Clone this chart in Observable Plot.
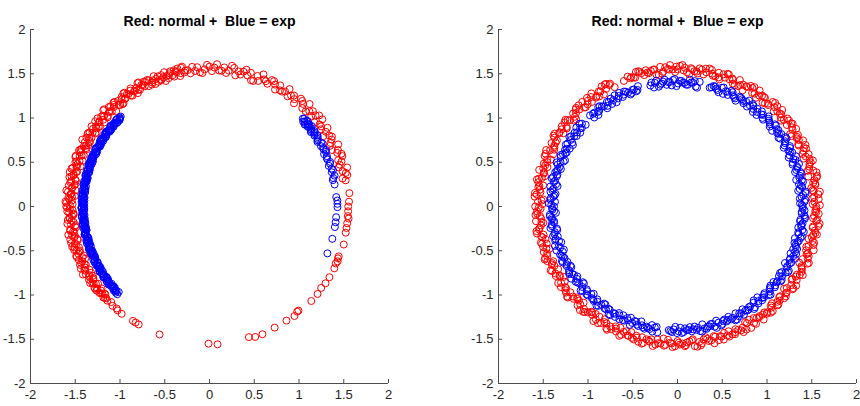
<!DOCTYPE html>
<html><head><meta charset="utf-8">
<script src="https://cdn.jsdelivr.net/npm/d3@7"></script>
<script src="https://cdn.jsdelivr.net/npm/@observablehq/plot@0.6"></script>
<style>
body{margin:0;background:#fff;}
#wrap{display:flex;width:860px;height:406px;}
#wrap svg{overflow:visible;}
</style></head><body><div id="wrap"></div>
<script>
const titleText = "Red: normal +  Blue = exp";
const tickValues = [-2, -1.5, -1, -0.5, 0, 0.5, 1, 1.5, 2];

// ---- Left panel: red (normal) angles in degrees and radii ----
const leftRedAngle = [
11,12,13,15,16,17,19,20,21,23,
24,25,26,28,29,30,32,33,34,35,
37,38,39,41,42,43,44,46,47,48,
50,51,52,53,55,56,57,59,60,61,
62,64,65,66,68,69,70,71,73,74,
75,77,78,79,80,82,83,84,86,87,
88,89,91,92,93,95,96,97,98,100,
101,102,104,105,106,107,109,110,111,113,
114,115,116,118,119,120,122,123,124,125,
127,128,129,131,132,133,134,136,137,138,
140,141,142,143,145,146,147,149,150,151,
152,154,155,156,158,159,160,161,163,164,
165,167,168,169,170,172,173,174,176,177,
178,179,181,182,183,185,186,187,188,190,
191,192,194,195,196,197,199,200,201,203,
204,205,206,208,209,210,212,213,214,215,
217,218,219,220,221,222,223,224.5,226,228,
228.8,231,236.5,237.8,239.3,248.9,269.6,273.3,286.6,289.1,
292.3,298,303.7,307.5,309.5,310.2,316.8,320.7,323.6,326.2,
329.2,333.4,335.5,336.6,337.8,338.7,344,349,351,353,
355,356,358,0,2,5.5
];
const leftRedRadius = [
1.55,1.52,1.58,1.54,1.60,1.51,1.56,1.53,1.59,1.55,
1.57,1.51,1.60,1.53,1.56,1.58,1.50,1.55,1.59,1.52,
1.54,1.60,1.51,1.57,1.53,1.58,1.55,1.61,1.52,1.56,
1.59,1.50,1.54,1.57,1.52,1.60,1.55,1.53,1.58,1.51,
1.56,1.59,1.53,1.55,1.61,1.52,1.57,1.50,1.58,1.54,
1.60,1.53,1.56,1.51,1.59,1.55,1.52,1.58,1.54,1.61,
1.57,1.53,1.60,1.55,1.51,1.58,1.54,1.59,1.52,1.56,
1.61,1.54,1.57,1.52,1.59,1.55,1.50,1.58,1.53,1.60,
1.56,1.52,1.59,1.54,1.57,1.61,1.51,1.55,1.58,1.53,
1.60,1.54,1.56,1.52,1.59,1.57,1.50,1.55,1.61,1.53,
1.58,1.51,1.56,1.60,1.54,1.57,1.52,1.59,1.55,1.53,
1.61,1.56,1.52,1.58,1.54,1.60,1.51,1.57,1.55,1.59,
1.53,1.56,1.60,1.52,1.58,1.55,1.51,1.59,1.54,1.57,
1.61,1.53,1.56,1.59,1.52,1.57,1.55,1.60,1.51,1.58,
1.54,1.57,1.52,1.60,1.55,1.58,1.53,1.56,1.59,1.51,
1.57,1.54,1.60,1.52,1.58,1.55,1.53,1.59,1.56,1.52,
1.58,1.54,1.56,1.53,1.57,1.55,1.56,1.54,1.56,1.55,
1.56,1.56,1.55,1.55,1.55,1.55,1.55,1.56,1.54,1.56,
1.56,1.55,1.55,1.56,1.54,1.54,1.56,1.56,1.55,1.56,
1.56,1.56,1.55,1.56,1.55,1.55,1.56,1.55,1.55,1.55,
1.56,1.55,1.55,1.55,1.56,1.57
];
// extra red points inside the dense part of the left arc
const leftRedAngle2 = [
14,18,22,27,31,36,40,45,49,54,
58,63,67,72,76,81,85,90,94,99,
103,108,112,117,121,126,130,135,139,144,
148,153,157,162,166,171,175,180,184,189,
193,198,202,207,211,216,
100.5,101.5,102.5,103.5,104.5,105.5,106.5,107.5,108.5,109.5,
110.5,111.5,112.5,113.5,114.5,115.5,116.5,117.5,118.5,119.5,
120.5,121.5,122.5,123.5,124.5,125.5,126.5,127.5,128.5,129.5,
130.5,131.5,132.5,133.5,134.5,135.5,136.5,137.5,138.5,139.5,
140.5,141.5,142.5,143.5,144.5,145.5,146.5,147.5,148.5,149.5,
150.5,151.5,152.5,153.5,154.5,155.5,156.5,157.5,158.5,159.5,
160.5,161.5,162.5,163.5,164.5,165.5,166.5,167.5,168.5,169.5,
170.5,171.5,172.5,173.5,174.5,175.5,176.5,177.5,178.5,179.5,
180.5,181.5,182.5,183.5,184.5,185.5,186.5,187.5,188.5,189.5,
190.5,191.5,192.5,193.5,194.5,195.5,196.5,197.5,198.5,199.5,
200.5,201.5,202.5,203.5,204.5,205.5,206.5,207.5,208.5,209.5,
210.5,211.5,212.5,213.5,214.5,215.5,216.5,217.5,218.5,219.5,
220.5,221.5
];
const leftRedRadius2 = [
1.57,1.53,1.59,1.51,1.56,1.54,1.60,1.52,1.58,1.55,
1.53,1.59,1.56,1.50,1.57,1.61,1.54,1.58,1.52,1.56,
1.60,1.55,1.52,1.58,1.54,1.57,1.51,1.59,1.56,1.53,
1.58,1.52,1.57,1.55,1.61,1.53,1.56,1.60,1.54,1.51,
1.55,1.59,1.53,1.57,1.52,1.58,1.54,1.60,1.51,1.56,
1.59,1.54,1.57,1.52,1.60,1.55,1.53,1.58,1.56,1.51,
1.54,1.58,1.52,1.59,1.56,1.61,1.53,1.57,1.55,1.60,
1.52,1.56,1.60,1.54,1.58,1.51,1.57,1.53,1.59,1.55,
1.58,1.53,1.55,1.61,1.52,1.57,1.54,1.60,1.56,1.52,
1.56,1.60,1.51,1.55,1.59,1.53,1.58,1.52,1.57,1.54,
1.53,1.57,1.59,1.52,1.56,1.60,1.54,1.58,1.51,1.55,
1.60,1.54,1.56,1.58,1.53,1.57,1.52,1.59,1.55,1.61,
1.55,1.51,1.58,1.54,1.60,1.56,1.59,1.53,1.57,1.52,
1.57,1.59,1.53,1.56,1.52,1.58,1.55,1.61,1.54,1.60,
1.52,1.56,1.60,1.53,1.57,1.54,1.59,1.51,1.58,1.55,
1.59,1.53,1.55,1.57,1.61,1.52,1.56,1.58,1.54,1.57,
1.54,1.58,1.56,1.52,1.57,1.55,1.53,1.56
];

// ---- Left panel: blue (exp) ----
const leftBlueAngle = [
134.3,135.2,136.1,137.0,138.2,139.1,140.0,141.2,142.1,143.0,
144.2,145.1,146.0,147.2,148.1,149.0,150.2,151.1,152.0,153.2,
154.1,155.0,156.2,157.1,158.0,159.2,160.1,161.0,162.2,163.1,
164.0,165.2,166.1,167.0,168.2,169.1,170.0,171.2,172.1,173.0,
174.2,175.1,176.0,177.2,178.1,179.0,180.2,181.1,182.0,183.2,
184.1,185.0,186.2,187.1,188.0,189.2,190.1,191.0,192.2,193.1,
194.0,195.2,196.1,197.0,198.2,199.1,200.0,201.2,202.1,203.0,
204.2,205.1,206.0,207.2,208.1,209.0,210.2,211.1,212.0,213.2,
214.1,215.0,216.2,217.1,218.0,219.2,220.1,221.0,222.2,223.9,
43.6,42.5,41.8,41.0,40.2,39.3,38.5,37.4,36.6,35.5,
34.4,33.6,32.3,31.2,30.0,28.7,27.5,26.1,24.8,23.4,
22.0,20.5,19.0,17.4,15.8,14.0,12.2,10.1,4.3,2.7,
1.2,359.7,355.1,352.8,350.6,345.1,338.1
];
const leftBlueRadius = [
1.42,1.41,1.43,1.40,1.42,1.41,1.43,1.42,1.40,1.41,
1.43,1.42,1.40,1.41,1.43,1.42,1.41,1.40,1.42,1.43,
1.41,1.40,1.42,1.43,1.41,1.42,1.40,1.43,1.41,1.42,
1.40,1.43,1.41,1.42,1.40,1.41,1.43,1.42,1.41,1.40,
1.42,1.43,1.41,1.40,1.42,1.41,1.43,1.40,1.42,1.41,
1.43,1.41,1.42,1.40,1.43,1.42,1.41,1.40,1.42,1.43,
1.41,1.42,1.40,1.43,1.41,1.42,1.43,1.40,1.41,1.42,
1.40,1.42,1.43,1.41,1.42,1.40,1.41,1.43,1.42,1.41,
1.43,1.40,1.42,1.41,1.43,1.42,1.40,1.41,1.42,1.43,
1.44,1.42,1.45,1.41,1.44,1.42,1.46,1.43,1.41,1.44,
1.42,1.45,1.43,1.41,1.44,1.42,1.43,1.45,1.41,1.43,
1.42,1.44,1.41,1.43,1.42,1.44,1.41,1.42,1.42,1.43,
1.43,1.43,1.42,1.42,1.42,1.42,1.42
];
// extra blue points filling the dense left arc and the upper right arc
const leftBlueAngle2 = [
135.6,136.6,137.6,138.6,139.6,140.6,141.6,142.6,143.6,144.6,
145.6,146.6,147.6,148.6,149.6,150.6,151.6,152.6,153.6,154.6,
155.6,156.6,157.6,158.6,159.6,160.6,161.6,162.6,163.6,164.6,
165.6,166.6,167.6,168.6,169.6,170.6,171.6,172.6,173.6,174.6,
175.6,176.6,177.6,178.6,179.6,180.6,181.6,182.6,183.6,184.6,
185.6,186.6,187.6,188.6,189.6,190.6,191.6,192.6,193.6,194.6,
195.6,196.6,197.6,198.6,199.6,200.6,201.6,202.6,203.6,204.6,
205.6,206.6,207.6,208.6,209.6,210.6,211.6,212.6,213.6,214.6,
215.6,216.6,217.6,218.6,219.6,220.6,221.6,222.6,223.6,
134.9,135.9,136.9,137.9,138.9,139.9,140.9,141.9,142.9,143.9,
144.9,145.9,146.9,147.9,148.9,149.9,150.9,151.9,152.9,153.9,
154.9,155.9,156.9,157.9,158.9,159.9,160.9,161.9,162.9,163.9,
164.9,165.9,166.9,167.9,168.9,169.9,170.9,171.9,172.9,173.9,
174.9,175.9,176.9,177.9,178.9,179.9,180.9,181.9,182.9,183.9,
184.9,185.9,186.9,187.9,188.9,189.9,190.9,191.9,192.9,193.9,
194.9,195.9,196.9,197.9,198.9,199.9,200.9,201.9,202.9,203.9,
204.9,205.9,206.9,207.9,208.9,209.9,210.9,211.9,212.9,213.9,
214.9,215.9,216.9,217.9,218.9,219.9,220.9,221.9,222.9,
43.1,42.0,41.4,40.6,39.8,38.9,38.0,36.9,36.0,34.9,
33.0,31.8,29.3,26.8,25.4,22.7,19.8,16.6,13.1
];
const leftBlueRadius2 = [
1.41,1.43,1.40,1.42,1.41,1.43,1.40,1.42,1.43,1.41,
1.40,1.42,1.43,1.41,1.40,1.42,1.41,1.43,1.40,1.42,
1.43,1.41,1.42,1.40,1.43,1.41,1.42,1.40,1.43,1.41,
1.42,1.40,1.41,1.43,1.42,1.40,1.41,1.43,1.40,1.42,
1.41,1.43,1.42,1.40,1.41,1.43,1.40,1.42,1.41,1.43,
1.40,1.42,1.41,1.43,1.40,1.41,1.42,1.43,1.41,1.40,
1.43,1.41,1.40,1.42,1.43,1.41,1.42,1.40,1.41,1.43,
1.42,1.40,1.43,1.41,1.42,1.43,1.40,1.41,1.42,1.40,
1.41,1.43,1.42,1.40,1.41,1.42,1.43,1.41,1.40,
1.42,1.40,1.43,1.41,1.42,1.40,1.43,1.41,1.40,1.42,
1.43,1.41,1.42,1.40,1.43,1.41,1.40,1.42,1.43,1.41,
1.40,1.42,1.41,1.43,1.40,1.42,1.43,1.41,1.42,1.40,
1.41,1.43,1.40,1.42,1.41,1.43,1.42,1.40,1.41,1.43,
1.42,1.40,1.41,1.43,1.42,1.40,1.43,1.41,1.42,1.40,
1.43,1.41,1.42,1.40,1.41,1.43,1.40,1.42,1.43,1.41,
1.40,1.42,1.43,1.41,1.40,1.42,1.41,1.43,1.42,1.40,
1.41,1.43,1.40,1.42,1.41,1.40,1.43,1.42,1.41,1.43,
1.42,1.40,1.41,1.43,1.42,1.41,1.40,1.42,1.43,
1.45,1.43,1.46,1.42,1.45,1.43,1.44,1.42,1.45,1.43,
1.44,1.42,1.45,1.43,1.44,1.42,1.43,1.44,1.42
];

// ---- Right panel: red (normal) ----
const rightRedAngle = [
0,1,3,4,6,7,9,10,12,13,
15,16,18,19,21,22,24,25,27,28,
30,31,33,34,36,37,39,40,42,43,
45,46,48,49,51,52,54,55,57,58,
60,61,63,64,66,67,69,70,72,73,
75,76,78,79,81,82,84,85,87,88,
90,91,93,94,96,97,99,100,102,103,
105,106,108,109.5,110.8,112.9,117.5,118.5,120,121,
123,124,126,127,129,130,132,133,135,136,
138,139,141,142,144,145,147,148,150,151,
153,154,156,157,159,160,162,163,165,166,
168,169,171,172,174,175,177,178,180,181,
183,184,186,187,189,190,192,193,195,196,
198,199,201,202,204,205,207,208,210,211,
213,214,216,217,219,220,222,223,225,226,
228,229,231,232,234,235,237,238,240,241,
243,244,246,247,249,250,252,253,255,256,
258,259,261,262,264,265,267,268,270,271,
273,274,276,277,279,280,282,283,285,286,
288,289,291,292,294,295,297,298,300,301,
303,304,306,307,309,310,312,313,315,316,
318,319,321,322,324,325,327,328,330,331,
333,334,336,337,339,340,342,343,345,346,
348,349,351,352,354,355,357,358
];
const rightRedRadius = [
1.55,1.51,1.58,1.53,1.60,1.52,1.56,1.54,1.59,1.50,
1.57,1.53,1.55,1.60,1.51,1.58,1.54,1.56,1.52,1.59,
1.54,1.57,1.50,1.55,1.59,1.53,1.58,1.51,1.56,1.60,
1.52,1.56,1.59,1.54,1.51,1.57,1.55,1.60,1.53,1.58,
1.56,1.50,1.54,1.59,1.52,1.57,1.60,1.55,1.51,1.58,
1.53,1.59,1.55,1.52,1.58,1.54,1.56,1.50,1.57,1.60,
1.55,1.52,1.60,1.56,1.53,1.59,1.51,1.57,1.54,1.58,
1.56,1.59,1.53,1.55,1.57,1.54,1.52,1.58,1.60,1.55,
1.51,1.57,1.54,1.60,1.52,1.56,1.59,1.53,1.55,1.58,
1.57,1.50,1.55,1.59,1.53,1.58,1.52,1.56,1.60,1.54,
1.58,1.53,1.56,1.51,1.59,1.55,1.57,1.52,1.60,1.54,
1.55,1.60,1.52,1.57,1.54,1.58,1.50,1.56,1.59,1.53,
1.57,1.54,1.59,1.51,1.56,1.60,1.53,1.55,1.58,1.52,
1.54,1.58,1.56,1.60,1.52,1.55,1.59,1.51,1.57,1.53,
1.59,1.52,1.55,1.57,1.54,1.60,1.56,1.53,1.58,1.51,
1.56,1.58,1.53,1.55,1.60,1.52,1.57,1.54,1.59,1.55,
1.52,1.57,1.60,1.54,1.56,1.51,1.58,1.55,1.53,1.59,
1.55,1.53,1.58,1.56,1.50,1.57,1.54,1.59,1.52,1.56,
1.58,1.54,1.52,1.59,1.55,1.57,1.51,1.56,1.60,1.53,
1.54,1.59,1.56,1.52,1.58,1.53,1.57,1.55,1.51,1.60,
1.57,1.52,1.55,1.60,1.54,1.56,1.59,1.53,1.58,1.55,
1.53,1.58,1.56,1.51,1.59,1.55,1.52,1.57,1.54,1.60,
1.56,1.54,1.59,1.52,1.57,1.55,1.60,1.53,1.58,1.51,
1.55,1.57,1.53,1.59,1.56,1.52,1.58,1.54
];
const rightRedAngle2 = [
2,5,8,11,14,17,20,23,26,29,
32,35,38,41,44,47,50,53,56,59,
62,65,68,71,74,77,80,83,86,89,
92,95,98,101,104,107,110,119,122,125,
128,131,134,137,140,143,146,149,152,155,
158,161,164,167,170,173,176,179,182,185,
188,191,194,197,200,203,206,209,212,215,
218,221,224,227,230,233,236,239,242,245,
248,251,254,257,260,263,266,269,272,275,
278,281,284,287,290,293,296,299,302,305,
308,311,314,317,320,323,326,329,332,335,
338,341,344,347,350,353,356,359,
0.5,3.5,6.5,9.5,12.5,15.5,18.5,21.5,24.5,27.5,
30.5,33.5,36.5,39.5,42.5,45.5,48.5,51.5,54.5,57.5,
60.5,63.5,66.5,69.5,72.5,75.5,78.5,81.5,84.5,87.5,
90.5,93.5,96.5,99.5,102.5,105.5,108.5,120.5,123.5,126.5,
129.5,132.5,135.5,138.5,141.5,144.5,147.5,150.5,153.5,156.5,
159.5,162.5,165.5,168.5,171.5,174.5,177.5,180.5,183.5,186.5,
189.5,192.5,195.5,198.5,201.5,204.5,207.5,210.5,213.5,216.5,
219.5,222.5,225.5,228.5,231.5,234.5,237.5,240.5,243.5,246.5,
249.5,252.5,255.5,258.5,261.5,264.5,267.5,270.5,273.5,276.5,
279.5,282.5,285.5,288.5,291.5,294.5,297.5,300.5,303.5,306.5,
309.5,312.5,315.5,318.5,321.5,324.5,327.5,330.5,333.5,336.5,
339.5,342.5,345.5,348.5,351.5,354.5,357.5
];
const rightRedRadius2 = [
1.53,1.58,1.51,1.56,1.60,1.54,1.57,1.52,1.59,1.55,
1.50,1.56,1.58,1.53,1.55,1.60,1.52,1.57,1.54,1.59,
1.56,1.51,1.55,1.58,1.53,1.60,1.57,1.54,1.52,1.59,
1.55,1.58,1.50,1.56,1.53,1.59,1.54,1.57,1.60,1.52,
1.57,1.53,1.59,1.55,1.51,1.58,1.56,1.60,1.54,1.52,
1.59,1.54,1.56,1.52,1.58,1.55,1.60,1.51,1.57,1.53,
1.54,1.60,1.52,1.57,1.55,1.58,1.53,1.56,1.50,1.59,
1.58,1.55,1.53,1.60,1.56,1.52,1.59,1.54,1.57,1.51,
1.52,1.57,1.59,1.54,1.60,1.56,1.51,1.58,1.55,1.53,
1.60,1.53,1.56,1.58,1.52,1.57,1.55,1.59,1.51,1.54,
1.55,1.59,1.52,1.56,1.58,1.53,1.60,1.54,1.57,1.50,
1.57,1.52,1.58,1.54,1.56,1.60,1.53,1.55,1.59,1.51,
1.53,1.56,1.60,1.51,1.57,1.54,1.58,1.52,1.55,1.59,
1.58,1.54,1.55,1.59,1.53,1.57,1.51,1.60,1.56,1.52,
1.56,1.60,1.53,1.55,1.59,1.52,1.57,1.54,1.58,1.55,
1.51,1.57,1.55,1.58,1.54,1.60,1.56,1.53,1.59,1.52,
1.59,1.53,1.57,1.52,1.56,1.58,1.54,1.60,1.51,1.55,
1.54,1.58,1.56,1.60,1.52,1.55,1.59,1.53,1.57,1.56,
1.57,1.51,1.59,1.54,1.58,1.53,1.56,1.55,1.60,1.52,
1.55,1.59,1.53,1.57,1.51,1.60,1.54,1.58,1.56,1.53,
1.60,1.56,1.52,1.58,1.55,1.54,1.57,1.51,1.59,1.53,
1.52,1.55,1.58,1.56,1.60,1.53,1.59,1.54,1.57,1.55,
1.58,1.53,1.56,1.59,1.52,1.57,1.55,1.60,1.54,1.51,
1.56,1.59,1.53,1.57,1.55
];

// ---- Right panel: blue (exp) ----
const rightBlueAngle = [
0,1.5,3,4.5,6,7.5,9,10.5,12,13.5,
15,16.5,18,19.5,21,22.5,24,25.5,27,28.5,
30,31.5,33,34.5,36,37.5,39,40.5,42,43.5,
45,46.5,48,49.5,51,52.5,54,55.5,57,58.5,
60,61.5,63,64.5,66,67.5,69,70.5,72,73.5,
75,80,81.5,83,84.5,86,87.5,89,90.5,92,
93.5,95,96.5,98,99.5,101,102.5,108,109.5,111,
112.5,114,115.5,117,118.5,120,121.5,123,124.5,126,
127.5,129,130.5,132,133.5,138,139.5,141,142.5,144,
145.5,147,148.5,150,151.5,153,154.5,156,157.5,159,
160.5,162,163.5,165,166.5,168,169.5,171,172.5,174,
175.5,177,178.5,180,181.5,183,184.5,186,187.5,189,
190.5,192,193.5,195,196.5,198,199.5,201,202.5,204,
205.5,207,208.5,210,211.5,213,214.5,216,217.5,219,
220.5,222,223.5,225,226.5,228,229.5,231,232.5,234,
235.5,237,238.5,240,241.5,243,244.5,246,247.5,249,
250.5,252,253.5,255,256.5,258,259.5,261,266,267.5,
269,270.5,272,273.5,275,276.5,278,279.5,281,282.5,
284,285.5,287,288.5,290,291.5,293,294.5,296,297.5,
299,300.5,302,303.5,305,306.5,308,309.5,311,312.5,
314,315.5,317,318.5,320,321.5,323,324.5,326,327.5,
329,330.5,332,333.5,335,336.5,338,339.5,341,342.5,
344,345.5,347,348.5,350,351.5,353,354.5,356,357.5,
359
];
const rightBlueRadius = [
1.40,1.37,1.43,1.39,1.44,1.36,1.41,1.38,1.42,1.40,
1.43,1.37,1.41,1.44,1.38,1.40,1.36,1.42,1.39,1.43,
1.38,1.41,1.44,1.37,1.40,1.42,1.36,1.43,1.39,1.41,
1.44,1.38,1.40,1.36,1.42,1.39,1.43,1.37,1.41,1.40,
1.42,1.36,1.39,1.43,1.38,1.41,1.44,1.37,1.40,1.42,
1.39,1.43,1.37,1.41,1.44,1.38,1.40,1.42,1.36,1.43,
1.41,1.38,1.42,1.39,1.44,1.37,1.40,1.43,1.38,1.41,
1.37,1.42,1.40,1.44,1.39,1.36,1.43,1.41,1.38,1.40,
1.43,1.39,1.36,1.41,1.42,1.38,1.44,1.40,1.37,1.42,
1.40,1.44,1.38,1.42,1.37,1.41,1.39,1.43,1.36,1.40,
1.42,1.37,1.41,1.39,1.43,1.40,1.38,1.44,1.41,1.37,
1.39,1.42,1.44,1.38,1.40,1.36,1.43,1.41,1.39,1.42,
1.37,1.40,1.43,1.41,1.38,1.44,1.39,1.36,1.42,1.40,
1.43,1.38,1.41,1.37,1.42,1.40,1.44,1.39,1.41,1.36,
1.40,1.43,1.39,1.42,1.36,1.41,1.38,1.44,1.40,1.37,
1.41,1.39,1.44,1.40,1.37,1.43,1.42,1.38,1.36,1.41,
1.38,1.42,1.40,1.43,1.41,1.37,1.39,1.44,1.40,1.42,
1.36,1.41,1.43,1.38,1.40,1.42,1.37,1.39,1.44,1.41,
1.40,1.38,1.42,1.36,1.43,1.39,1.41,1.37,1.40,1.44,
1.42,1.40,1.37,1.41,1.39,1.44,1.38,1.42,1.36,1.40,
1.39,1.43,1.41,1.38,1.42,1.37,1.40,1.43,1.41,1.38,
1.44,1.40,1.36,1.42,1.39,1.41,1.43,1.38,1.40,1.37,
1.41,1.42,1.39,1.44,1.37,1.40,1.38,1.43,1.42,1.39,
1.40
];
const rightBlueAngle2 = [
0.75,2.25,3.75,5.25,6.75,8.25,9.75,11.25,12.75,14.25,
15.75,17.25,18.75,20.25,21.75,23.25,24.75,26.25,27.75,29.25,
30.75,32.25,33.75,35.25,36.75,38.25,39.75,41.25,42.75,44.25,
45.75,47.25,48.75,50.25,51.75,53.25,54.75,56.25,57.75,59.25,
60.75,62.25,63.75,65.25,66.75,68.25,69.75,71.25,72.75,74.25,
80.75,82.25,83.75,85.25,86.75,88.25,89.75,91.25,92.75,94.25,
95.75,97.25,98.75,100.25,101.75,
108.75,110.25,111.75,113.25,114.75,116.25,117.75,119.25,120.75,122.25,
123.75,125.25,126.75,128.25,129.75,131.25,132.75,
138.75,140.25,141.75,143.25,144.75,146.25,147.75,149.25,150.75,152.25,
153.75,155.25,156.75,158.25,159.75,161.25,162.75,164.25,165.75,167.25,
168.75,170.25,171.75,173.25,174.75,176.25,177.75,179.25,180.75,182.25,
183.75,185.25,186.75,188.25,189.75,191.25,192.75,194.25,195.75,197.25,
198.75,200.25,201.75,203.25,204.75,206.25,207.75,209.25,210.75,212.25,
213.75,215.25,216.75,218.25,219.75,221.25,222.75,224.25,225.75,227.25,
228.75,230.25,231.75,233.25,234.75,236.25,237.75,239.25,240.75,242.25,
243.75,245.25,246.75,248.25,249.75,251.25,252.75,254.25,255.75,257.25,
258.75,260.25,
266.75,268.25,269.75,271.25,272.75,274.25,275.75,277.25,278.75,280.25,
281.75,283.25,284.75,286.25,287.75,289.25,290.75,292.25,293.75,295.25,
296.75,298.25,299.75,301.25,302.75,304.25,305.75,307.25,308.75,310.25,
311.75,313.25,314.75,316.25,317.75,319.25,320.75,322.25,323.75,325.25,
326.75,328.25,329.75,331.25,332.75,334.25,335.75,337.25,338.75,340.25,
341.75,343.25,344.75,346.25,347.75,349.25,350.75,352.25,353.75,355.25,
356.75,358.25
];
const rightBlueRadius2 = [
1.39,1.42,1.37,1.41,1.44,1.38,1.40,1.43,1.36,1.41,
1.43,1.39,1.41,1.37,1.42,1.44,1.38,1.40,1.42,1.36,
1.40,1.44,1.38,1.42,1.39,1.41,1.43,1.37,1.40,1.42,
1.37,1.41,1.43,1.39,1.36,1.42,1.40,1.44,1.38,1.41,
1.42,1.38,1.40,1.44,1.41,1.37,1.43,1.39,1.42,1.40,
1.36,1.43,1.41,1.38,1.40,1.42,1.39,1.44,1.37,1.41,
1.44,1.40,1.37,1.42,1.43,1.39,1.41,1.38,1.40,1.43,
1.38,1.41,1.44,1.40,1.37,1.42,1.36,1.41,1.43,1.39,
1.41,1.37,1.42,1.39,1.44,1.40,1.38,1.43,1.41,1.36,
1.43,1.40,1.38,1.41,1.42,1.37,1.44,1.39,1.40,1.42,
1.39,1.44,1.41,1.36,1.40,1.43,1.38,1.42,1.37,1.41,
1.40,1.38,1.43,1.41,1.39,1.42,1.44,1.37,1.41,1.38,
1.42,1.36,1.40,1.44,1.38,1.41,1.39,1.43,1.40,1.37,
1.41,1.43,1.39,1.37,1.42,1.40,1.36,1.44,1.38,1.42,
1.38,1.41,1.42,1.40,1.43,1.37,1.41,1.39,1.44,1.40,
1.43,1.39,1.37,1.42,1.40,1.44,1.38,1.41,1.36,1.42,
1.40,1.42,1.44,1.38,1.41,1.39,1.43,1.37,1.42,1.40,
1.37,1.40,1.41,1.43,1.36,1.42,1.40,1.38,1.44,1.39,
1.42,1.38,1.40,1.41,1.44,1.37,1.39,1.43,1.40,1.41,
1.39,1.43,1.36,1.40,1.42,1.41,1.38,1.44,1.39,1.37,
1.41,1.40,1.43,1.38,1.37,1.42,1.44,1.40,1.41,1.39,
1.44,1.37,1.41,1.42,1.39,1.40,1.36,1.43,1.38,1.42,
1.40,1.41,1.38,1.43,1.39,1.42
];

const FONT = '"Liberation Sans Narrow", "Arial Narrow", "Liberation Sans", Arial, sans-serif';
const AXIS = "#4d4d4d";
const RED = "#ff0000";
const BLUE = "#0000ff";

function toPoints(angles, radii) {
  const n = Math.min(angles.length, radii.length);
  return d3.range(n).map(i => ({
    x: radii[i] * Math.cos(angles[i] * Math.PI / 180),
    y: radii[i] * Math.sin(angles[i] * Math.PI / 180)
  }));
}

function panel(redPts, bluePts, marginLeft, marginRight) {
  return Plot.plot({
    width: 430, height: 406,
    marginTop: 29, marginBottom: 23, marginLeft, marginRight,
    x: {domain: [-2, 2], label: null},
    y: {domain: [-2, 2], label: null},
    style: {fontFamily: FONT, fontSize: "13px", color: "#262626", background: "white", overflow: "visible"},
    marks: [
      Plot.ruleX([-2], {stroke: AXIS, strokeWidth: 1}),
      Plot.ruleY([-2], {stroke: AXIS, strokeWidth: 1}),
      Plot.axisX(tickValues, {tickSize: -4, tickPadding: 10, tickFormat: d => String(d), stroke: AXIS, label: null}),
      Plot.axisY(tickValues, {tickSize: -4, tickPadding: 9, tickFormat: d => String(d), stroke: AXIS, label: null}),
      Plot.dot(redPts, {x: "x", y: "y", r: 3.5, stroke: RED, strokeWidth: 1, fill: "none"}),
      Plot.dot(bluePts, {x: "x", y: "y", r: 3.5, stroke: BLUE, strokeWidth: 1, fill: "none"}),
      Plot.text([titleText], {frameAnchor: "top", dy: -13, fontWeight: "bold", fontSize: 14, fill: "#000", fontFamily: FONT})
    ]
  });
}

const wrap = document.getElementById("wrap");
wrap.append(panel(
  toPoints(leftRedAngle, leftRedRadius).concat(toPoints(leftRedAngle2, leftRedRadius2)),
  toPoints(leftBlueAngle, leftBlueRadius).concat(toPoints(leftBlueAngle2, leftBlueRadius2)),
  30, 42));
wrap.append(panel(
  toPoints(rightRedAngle, rightRedRadius).concat(toPoints(rightRedAngle2, rightRedRadius2)),
  toPoints(rightBlueAngle, rightBlueRadius).concat(toPoints(rightBlueAngle2, rightBlueRadius2)),
  68, 4));
</script></body></html>
